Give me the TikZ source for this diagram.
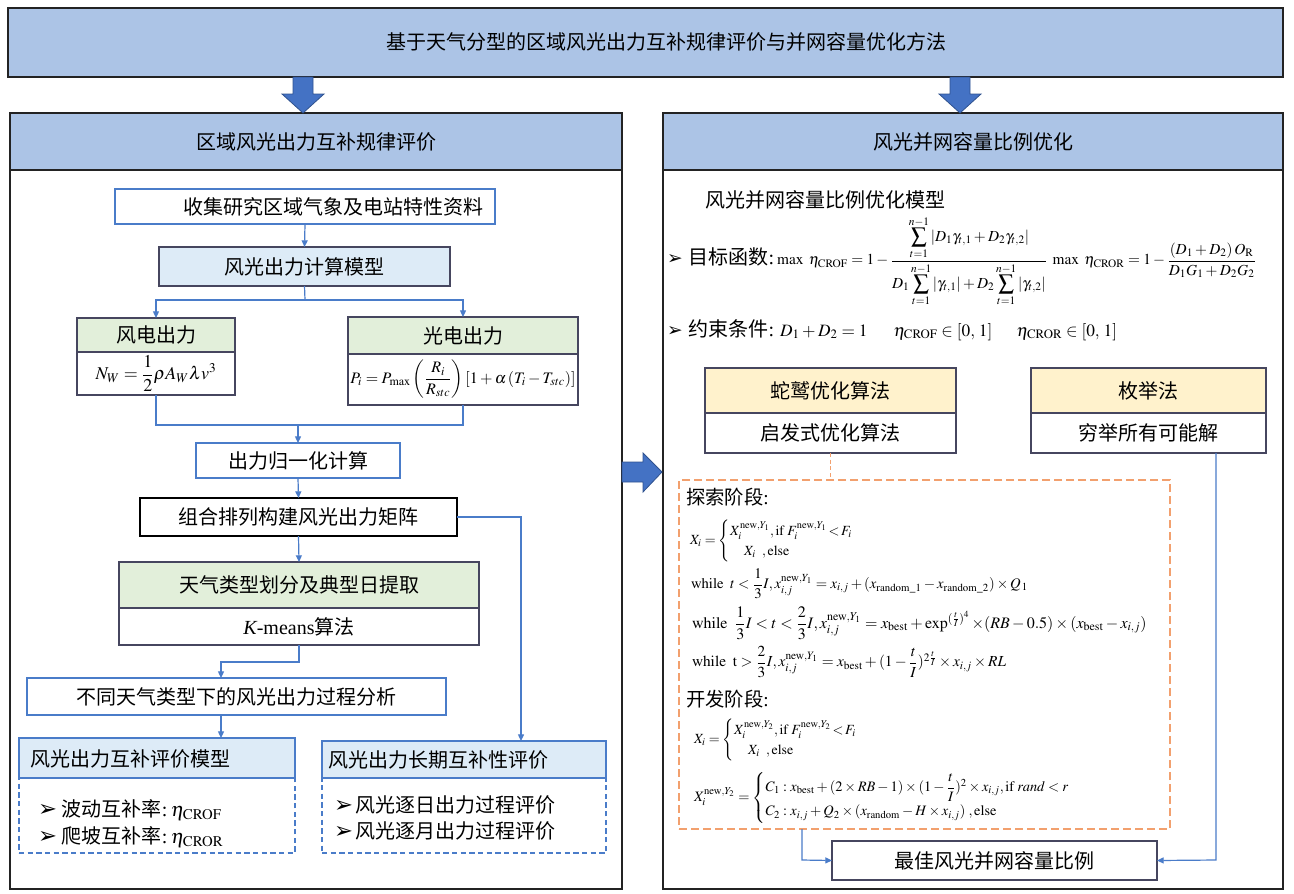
\documentclass[tikz,border=0pt]{standalone}
\usepackage{amsmath}
\usepackage{mathptmx}
\usepackage[no-math]{fontspec}
\setmainfont{Noto Sans CJK SC}
\newfontfamily\lat{Liberation Serif}
\newfontfamily\symf{DejaVu Sans}
\usetikzlibrary{arrows.meta}
\definecolor{hdr}{RGB}{172,196,230}
\definecolor{bigarrow}{RGB}{68,114,196}
\definecolor{bigarrowline}{RGB}{47,82,143}
\definecolor{lblue}{RGB}{221,235,247}
\definecolor{lgreen}{RGB}{226,239,218}
\definecolor{lyellow}{RGB}{255,242,204}
\definecolor{conn}{RGB}{74,124,201}
\definecolor{orng}{RGB}{242,160,110}
\definecolor{dk}{RGB}{70,70,95}
\definecolor{pnl}{RGB}{35,35,35}
\newcommand\bx[7]{\node[#6, minimum width={(#4-#2)*0.75pt}, minimum height={(#5-#3)*0.75pt}] (#1) at ({(#2+#4)/2},{(#3+#5)/2}) {#7};}
\newcommand\larr{{\symf\fontsize{17}{18}\selectfont ➢}}
\newcommand\rarr{{\symf\fontsize{14}{15}\selectfont ➢}}
\tikzset{
  base/.style={inner sep=0pt, outer sep=0pt, font=\fontsize{15}{18}\selectfont},
  txt/.style={inner sep=0pt, outer sep=0pt, font=\fontsize{15}{18}\selectfont},
  pnlbox/.style={base, draw=pnl, line width=1.4pt, fill=white},
  hdrbox/.style={pnlbox, fill=hdr},
  wbox/.style={base, draw=conn, line width=0.9pt, fill=white},
  kbox/.style={base, draw=dk, line width=1pt, fill=white},
  bhdr/.style={base, draw=conn, line width=1pt, fill=lblue},
  dbox/.style={base, draw=conn, line width=0.8pt, dash pattern=on 4pt off 2.5pt},
  obox/.style={base, draw=orng, line width=1.1pt, dash pattern=on 6pt off 3pt},
  link/.style={draw=conn, line width=0.9pt},
  arr/.style={link, -{Triangle[length=5pt,width=4.5pt]}},
  odash/.style={draw=orng, line width=0.9pt, dash pattern=on 3pt off 2pt},
  blockarrow/.style={fill=bigarrow, draw=bigarrowline, line width=0.6pt},
  fm/.style={inner sep=0pt, outer sep=0pt, anchor=west, font=\fontsize{10.5}{12.5}\selectfont},
}
\begin{document}
\begin{tikzpicture}[x=0.75pt,y=-0.75pt]
\useasboundingbox (0,0) rectangle (1294,893);
% title
\bx{title}{8}{8}{1283}{77}{hdrbox}{}
\node[txt] (titletext) at (666,42) {基于天气分型的区域风光出力互补规律评价与并网容量优化方法};
% panels
\bx{lp}{10}{113}{622}{889}{pnlbox}{}
\bx{lph}{10}{113}{622}{170}{hdrbox}{区域风光出力互补规律评价}
\bx{rp}{663}{113}{1283}{889}{pnlbox}{}
\bx{rph}{663}{113}{1283}{170}{hdrbox}{风光并网容量比例优化}
% block arrows
\filldraw[blockarrow] (293,77) -- (313,77) -- (313,94) -- (324,94) -- (303,113) -- (282,94) -- (293,94) -- cycle;
\filldraw[blockarrow] (950,77) -- (970,77) -- (970,94) -- (981,94) -- (960,113) -- (939,94) -- (950,94) -- cycle;
\filldraw[blockarrow] (622,462) -- (643,462) -- (643,453) -- (662,472) -- (643,492) -- (643,482) -- (622,482) -- cycle;

% ---------- left panel ----------
\bx{collect}{115}{189}{495}{224}{wbox}{}
\node[txt] (collecttext) at (333,207) {收集研究区域气象及电站特性资料};
\bx{model}{159}{247}{450}{286}{kbox, fill=lblue}{风光出力计算模型}
\draw[arr] (collect.south) -- (model.north);
\bx{windh}{77}{318}{235}{352}{kbox, fill=lgreen}{风电出力}
\bx{windf}{77}{352}{235}{395}{kbox}{\fontsize{13.5}{15}\selectfont$N_W=\dfrac{1}{2}\rho A_W\lambda v^3$}
\bx{pvh}{348}{317}{578}{354}{kbox, fill=lgreen}{光电出力}
\bx{pvf}{348}{354}{578}{405}{kbox}{\fontsize{12}{14}\selectfont$P_i=P_{\max}\left(\dfrac{R_i}{R_{stc}}\right)\left[1+\alpha\left(T_i-T_{stc}\right)\right]$}
\coordinate (sp) at (305,300);
\draw[link] (model.south) -- (sp);
\draw[arr] (sp) -| (windh.north);
\draw[arr] (sp) -| (pvh.north);
\bx{norm}{196}{443}{400}{478}{wbox}{出力归一化计算}
\coordinate (mg) at (298,425);
\draw[link] (windf.south) |- (mg);
\draw[link] (pvf.south) |- (mg);
\draw[arr] (mg) -- (norm.north);
\bx{matrix}{140}{498}{457}{536}{kbox, draw=black}{组合排列构建风光出力矩阵}
\draw[arr] (norm.south) -- (matrix.north);
\bx{wth}{119}{562}{479}{608}{kbox, fill=lgreen}{天气类型划分及典型日提取}
\bx{wtk}{119}{608}{479}{645}{kbox}{{\lat\itshape K}{\lat -means}算法}
\draw[arr] (matrix.south) -- (wth.north);
\bx{ana}{27}{678}{446}{715}{wbox}{不同天气类型下的风光出力过程分析}
\coordinate (k1) at (299,662);
\coordinate (k2) at (221,662);
\draw[arr] (wtk.south) -- (k1) -- (k2) -- (k2 |- ana.north);
\bx{cmh}{19}{738}{295}{778}{bhdr}{}
\node[txt, anchor=west] (cmhtext) at (30,759) {风光出力互补评价模型};
\bx{cmb}{19}{778}{295}{853}{dbox}{}
\draw[arr] (ana.south -| k2) -- (cmh.north -| k2);
\node[txt, anchor=west] (cm1) at (38,810) {\larr\hspace{0.25em}波动互补率{\lat :}\,$\eta_{\mathrm{CROF}}$};
\node[txt, anchor=west] (cm2) at (38,837) {\larr\hspace{0.25em}爬坡互补率{\lat :}\,$\eta_{\mathrm{CROR}}$};
\bx{lth}{322}{741}{606}{778}{bhdr}{}
\node[txt, anchor=west] (lthtext) at (328,760) {风光出力长期互补性评价};
\bx{ltb}{322}{778}{606}{853}{dbox}{}
\node[txt, anchor=west] (lt1) at (334,805) {\larr\hspace{0.15em}风光逐日出力过程评价};
\node[txt, anchor=west] (lt2) at (334,831) {\larr\hspace{0.15em}风光逐月出力过程评价};
\coordinate (m1) at (521,517);
\draw[arr] (matrix.east) -- (m1) -- (m1 |- lth.north);

% ---------- right panel ----------
\node[txt, anchor=west] (optmodel) at (705,200) {风光并网容量比例优化模型};
\node[txt, anchor=west] (obj) at (667,261) {\rarr\hspace{0.3em}目标函数{\lat :}\hspace{0.15em}{\fontsize{11.5}{13.5}\selectfont$\max\ \eta_{\mathrm{CROF}}=1-\dfrac{\displaystyle\sum_{t=1}^{n-1}\left|D_1\gamma_{t,1}+D_2\gamma_{t,2}\right|}{D_1\displaystyle\sum_{t=1}^{n-1}\left|\gamma_{t,1}\right|+D_2\displaystyle\sum_{t=1}^{n-1}\left|\gamma_{t,2}\right|}\ \max\ \eta_{\mathrm{CROR}}=1-\dfrac{\left(D_1+D_2\right)O_{\mathrm{R}}}{D_1G_1+D_2G_2}$}};
\node[txt, anchor=west] (cons) at (667,330) {\rarr\hspace{0.3em}约束条件{\lat :}\hspace{0.3em}{\fontsize{13}{15}\selectfont$D_1+D_2=1$\hspace{1.5em}$\eta_{\mathrm{CROF}}\in[0,\,1]$\hspace{1.4em}$\eta_{\mathrm{CROR}}\in[0,\,1]$}};
\bx{sah}{705}{368}{956}{413}{kbox, fill=lyellow}{蛇鹫优化算法}
\bx{sab}{705}{413}{956}{453}{kbox}{启发式优化算法}
\bx{enh}{1031}{368}{1266}{413}{kbox, fill=lyellow}{枚举法}
\bx{enb}{1031}{413}{1266}{453}{kbox}{穷举所有可能解}
\bx{sabox}{679}{480}{1170}{829}{obox}{}
\draw[odash] (sab.south) -- (sab.south |- sabox.north);
\node[txt, anchor=west, font=\fontsize{14.5}{16}\selectfont] (explore) at (686,497) {探索阶段{\lat :}};
\node[fm] (e1) at (690,541) {$X_i=\begin{cases} X_i^{\mathrm{new},Y_1},\mathrm{if}\ F_i^{\mathrm{new},Y_1}\!<\!F_i\\ \quad X_i\ \ ,\mathrm{else}\end{cases}$};
\node[fm, font=\fontsize{11}{13}\selectfont] (e2) at (691,584) {$\mathrm{while}\ \ t<\dfrac{1}{3}I,x_{i,j}^{\mathrm{new},Y_1}=x_{i,j}+\left(x_{\mathrm{random\_1}}-x_{\mathrm{random\_2}}\right)\times Q_{\,1}$};
\node[fm, font=\fontsize{12}{14}\selectfont] (e3) at (692,623) {$\mathrm{while}\ \ \dfrac{1}{3}I<t<\dfrac{2}{3}I,x_{i,j}^{\mathrm{new},Y_1}=x_{\mathrm{best}}+\exp^{(\frac{t}{I})^4}\times(RB-0.5)\times(x_{\mathrm{best}}-x_{i,j})$};
\node[fm, font=\fontsize{11.5}{13.5}\selectfont] (e4) at (692,662) {$\mathrm{while}\ \ \mathrm{t}>\dfrac{2}{3}I,x_{i,j}^{\mathrm{new},Y_1}=x_{\mathrm{best}}+(1-\dfrac{t}{I})^{2\frac{t}{I}}\times x_{i,j}\times RL$};
\node[txt, anchor=west, font=\fontsize{14.5}{16}\selectfont] (exploit) at (686,699) {开发阶段{\lat :}};
\node[fm] (d1) at (694,740) {$X_i=\begin{cases} X_i^{\mathrm{new},Y_2},\mathrm{if}\ F_i^{\mathrm{new},Y_2}\!<\!F_i\\ \quad X_i\ \ ,\mathrm{else}\end{cases}$};
\node[fm, font=\fontsize{10.8}{12.8}\selectfont] (d2) at (694,798) {$X_i^{\mathrm{new},Y_2}=\begin{cases} C_1:x_{\mathrm{best}}+(2\times RB-1)\times(1-\dfrac{t}{I})^2\times x_{i,j},\mathrm{if}\ \mathit{rand}<r\\[3pt] C_2:x_{i,j}+Q_2\times(x_{\mathrm{random}}-H\times x_{i,j})\ ,\mathrm{else}\end{cases}$};
\bx{best}{832}{841}{1157}{880}{kbox}{最佳风光并网容量比例}
\coordinate (o1) at (802,860);
\draw[arr] (sabox.south -| o1) -- (o1) -- (best.west);
\coordinate (r1) at (1216,860);
\draw[arr] (enb.south -| r1) -- (r1) -- (best.east);
\end{tikzpicture}
\end{document}
